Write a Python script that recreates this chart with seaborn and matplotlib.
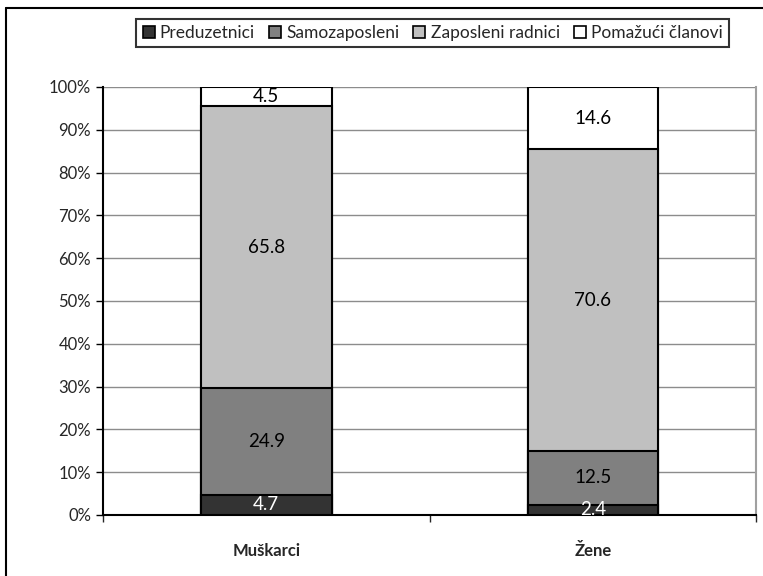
import numpy as np
import pandas as pd
import matplotlib.pyplot as plt
from matplotlib.patches import Patch
from matplotlib.lines import Line2D
from matplotlib.ticker import FuncFormatter
import seaborn as sns

# --- data ---
groups = ['Muškarci', 'Žene']
series = ['Preduzetnici', 'Samozaposleni', 'Zaposleni radnici', 'Pomažući članovi']
preduzetnici = [4.7, 2.4]
samozaposleni = [24.9, 12.5]
zaposleni = [65.8, 70.6]
pomazuci = [4.5, 14.6]
colors = ['#333333', '#808080', '#c0c0c0', '#ffffff']

sns.set_style('white')
plt.rcParams['font.family'] = ['Lato', 'DejaVu Sans']

vals = np.array([preduzetnici, samozaposleni, zaposleni, pomazuci])
pct = vals / vals.sum(axis=0) * 100
cum = pct.cumsum(axis=0)

fig = plt.figure(figsize=(7.63, 5.76), dpi=100)
ax = fig.add_axes([0.135, 0.106, 0.856, 0.743])

# draw tallest stack first so the lower segments sit on top
for i in reversed(range(len(series))):
    df = pd.DataFrame({'group': groups, 'value': cum[i]})
    sns.barplot(data=df, x='group', y='value', color=colors[i], edgecolor='black',
                linewidth=1.5, width=0.4, saturation=1, ax=ax, zorder=3)

# labels in the middle of each segment
for i in range(len(series)):
    for j in range(len(groups)):
        y = cum[i][j] - pct[i][j] / 2
        ax.text(j, y, f'{vals[i][j]:.1f}', ha='center', va='center', fontsize=13.5,
                color='white' if i == 0 else 'black', zorder=5)

ax.set_ylim(0, 100)
ax.set_xlim(-0.5, 1.5)
ax.set_yticks(np.arange(0, 101, 10))
ax.yaxis.set_major_formatter(FuncFormatter(lambda v, p: f'{v:.0f}%'))
ax.yaxis.grid(True, color='#8c8c8c', linewidth=1, zorder=0)
ax.set_axisbelow(True)
ax.set_xlabel('')
ax.set_ylabel('')
ax.tick_params(axis='y', direction='out', length=5, width=1, labelsize=12, left=True, color='black')
ax.tick_params(axis='x', which='major', length=0, labelsize=12, pad=20)
ax.set_xticks([-0.5, 0.5, 1.5], minor=True)
ax.tick_params(axis='x', which='minor', direction='out', length=5, width=1, bottom=True)
for lbl in ax.get_xticklabels():
    lbl.set_fontweight('bold')

for s in ['left', 'bottom']:
    ax.spines[s].set_color('black')
    ax.spines[s].set_linewidth(1.5)
ax.spines['top'].set_visible(False)
ax.spines['right'].set_color('#a0a0a0')
ax.spines['right'].set_linewidth(1.5)

handles = [Patch(facecolor=c, edgecolor='black', linewidth=1.2) for c in colors]
leg = fig.legend(handles, series, loc='center', bbox_to_anchor=(0.567, 0.943), ncol=4,
                 frameon=True, fancybox=False, fontsize=12.5, handlelength=0.7, handleheight=0.7,
                 handletextpad=0.3, columnspacing=0.8, borderpad=0.35, edgecolor='black')
leg.get_frame().set_linewidth(1.5)

# outer chart border (left and top edges visible)
fig.add_artist(Line2D([6 / 763, 6 / 763], [0, 1 - 8 / 576], transform=fig.transFigure, color='black', linewidth=1.5))
fig.add_artist(Line2D([6 / 763, 1], [1 - 8 / 576, 1 - 8 / 576], transform=fig.transFigure, color='black', linewidth=1.5))

fig.savefig('out.png', dpi=100)
